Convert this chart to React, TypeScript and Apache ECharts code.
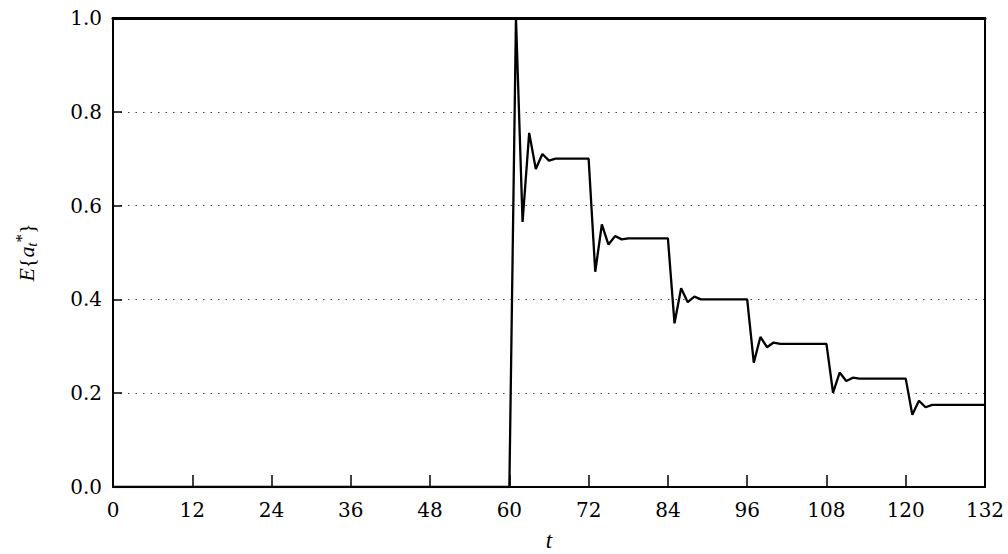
import React, { useEffect, useRef } from "react";
import * as echarts from "echarts";

// Time index (t) of each break point of the expected value curve
const tValues: number[] = [
  0, 60, 61, 62, 63, 64, 65, 66, 67, 72,
  73, 74, 75, 76, 77, 78, 84,
  85, 86, 87, 88, 89, 96,
  97, 98, 99, 100, 101, 108,
  109, 110, 111, 112, 113, 120,
  121, 122, 123, 124, 132,
];

// E{a_t*} at each of those times
const expectedValues: number[] = [
  0, 0, 1.0, 0.565, 0.755, 0.678, 0.71, 0.696, 0.7, 0.7,
  0.459, 0.56, 0.517, 0.535, 0.528, 0.53, 0.53,
  0.349, 0.424, 0.394, 0.406, 0.4, 0.4,
  0.265, 0.32, 0.298, 0.308, 0.305, 0.305,
  0.201, 0.244, 0.226, 0.233, 0.231, 0.231,
  0.154, 0.184, 0.17, 0.175, 0.175,
];

const xTicks: number[] = [0, 12, 24, 36, 48, 60, 72, 84, 96, 108, 120, 132];
const yTicks: number[] = [0, 0.2, 0.4, 0.6, 0.8, 1.0];

const FONT = "DejaVu Serif";
const LABEL_FONT = "Liberation Serif";

export default function App() {
  const ref = useRef<HTMLDivElement>(null);

  useEffect(() => {
    document.body.style.margin = "0";
    if (!ref.current) return;
    const chart = echarts.init(ref.current, undefined, { renderer: "svg" });

    const points = tValues.map((t, i) => [t, expectedValues[i]]);
    const xStep = xTicks[1] - xTicks[0];
    const yStep = yTicks[1] - yTicks[0];

    chart.setOption({
      animation: false,
      backgroundColor: "#fff",
      grid: {
        left: 113,
        right: 23,
        top: 18,
        bottom: 67,
        containLabel: false,
        outerBoundsMode: "none",
      },
      xAxis: [
        {
          type: "value",
          min: xTicks[0],
          max: xTicks[xTicks.length - 1],
          interval: xStep,
          name: "t",
          nameLocation: "middle",
          nameGap: 42,
          nameTextStyle: { fontFamily: LABEL_FONT, fontSize: 23, fontStyle: "italic", color: "#000" },
          axisLine: { show: true, onZero: false, lineStyle: { color: "#000", width: 2 } },
          axisTick: { show: true, inside: true, length: 12, lineStyle: { color: "#000", width: 1.5 } },
          axisLabel: { margin: 13, fontFamily: FONT, fontSize: 20, color: "#000" },
          splitLine: { show: false },
        },
        {
          type: "value",
          position: "top",
          min: xTicks[0],
          max: xTicks[xTicks.length - 1],
          interval: xStep,
          axisLine: { show: true, onZero: false, lineStyle: { color: "#000", width: 3 } },
          axisTick: { show: false },
          axisLabel: { show: false },
          splitLine: { show: false },
        },
      ],
      yAxis: [
        {
          type: "value",
          min: yTicks[0],
          max: yTicks[yTicks.length - 1],
          interval: yStep,
          name: "{i|E}{{i|a}{sub|t}{sup|*}}",
          nameLocation: "middle",
          nameRotate: 90,
          nameGap: 74,
          nameTextStyle: {
            fontFamily: LABEL_FONT,
            fontSize: 22,
            color: "#000",
            lineHeight: 26,
            rich: {
              i: { fontFamily: LABEL_FONT, fontSize: 22, fontStyle: "italic", color: "#000", lineHeight: 26 },
              sub: { fontFamily: LABEL_FONT, fontSize: 15, fontStyle: "italic", color: "#000", verticalAlign: "bottom", lineHeight: 15 },
              sup: { fontFamily: LABEL_FONT, fontSize: 17, color: "#000", verticalAlign: "top", lineHeight: 17 },
            },
          },
          axisLine: { show: true, onZero: false, lineStyle: { color: "#000", width: 2 } },
          axisTick: { show: true, inside: true, length: 9, lineStyle: { color: "#000", width: 1.5 } },
          axisLabel: {
            margin: 11,
            fontFamily: FONT,
            fontSize: 20,
            color: "#000",
            formatter: (v: number) => v.toFixed(1),
          },
          splitLine: { show: true, lineStyle: { color: "#444", width: 1, type: [1.5, 6] } },
        },
        {
          type: "value",
          position: "right",
          min: yTicks[0],
          max: yTicks[yTicks.length - 1],
          interval: yStep,
          axisLine: { show: true, onZero: false, lineStyle: { color: "#000", width: 2 } },
          axisTick: { show: false },
          axisLabel: { show: false },
          splitLine: { show: false },
        },
      ],
      series: [
        {
          type: "line",
          xAxisIndex: 0,
          yAxisIndex: 0,
          data: points,
          symbol: "none",
          lineStyle: { color: "#000", width: 2.3 },
          z: 5,
        },
      ],
    });

    return () => chart.dispose();
  }, []);

  return <div ref={ref} style={{ width: 1008, height: 554 }} />;
}
